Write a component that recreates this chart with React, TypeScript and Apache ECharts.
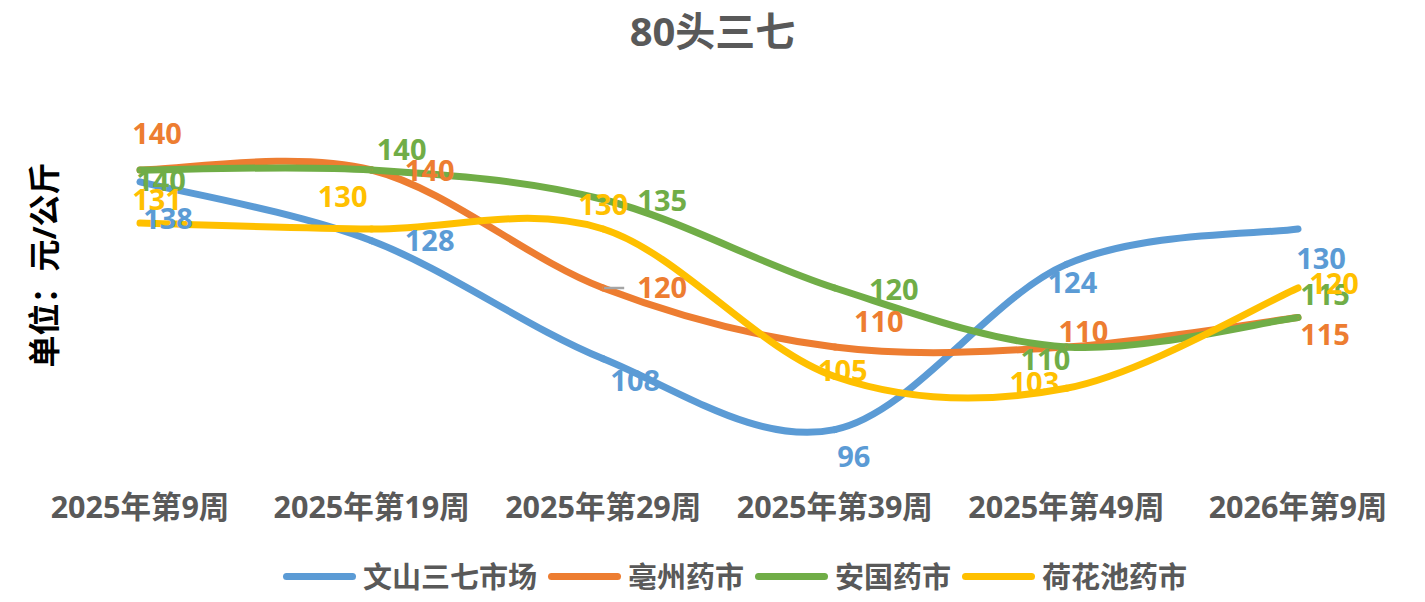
import React, { useEffect, useRef } from 'react';
import * as echarts from 'echarts';

const chartTitle = '80头三七';
const yAxisTitle = '单位：元/公斤';
const categories = ['2025年第9周', '2025年第19周', '2025年第29周', '2025年第39周', '2025年第49周', '2026年第9周'];
const seriesNames = ['文山三七市场', '亳州药市', '安国药市', '荷花池药市'];
const wenshan = [138, 128, 108, 96, 124, 130];
const bozhou = [140, 140, 120, 110, 110, 115];
const anguo = [140, 140, 135, 120, 110, 115];
const hehuachi = [131, 130, 130, 105, 103, 120];

const colors = ['#5B9BD5', '#ED7D31', '#70AD47', '#FFC000'];
const FONT = "'Open Sans', 'Noto Sans CJK SC', sans-serif";

// label centre offsets (px) relative to each point
const labelOffsets = [
  [[28, 36], [58, -1], [32, 21], [19, 26], [6, 17], [23, 28]],
  [[17, -38], [58, -1], [59, -2], [44, -27], [17, -17], [27, 16]],
  [[21, 9], [30, -22], [59, 0], [59, 0], [-21, 11], [27, -24]],
  [[17, -25], [-29, -34], [0, -26], [8, -7], [-32, -7], [36, -6]],
];
// leader line (series index, point index, length px)
const leaderLines = [[1, 2, 21]];

export default function App() {
  const ref = useRef<HTMLDivElement>(null);
  useEffect(() => {
    const chart = echarts.init(ref.current!, null, { renderer: 'svg' });
    const values = [wenshan, bozhou, anguo, hehuachi];

    // invisible line series: labels + legend
    const labelSeries = values.map((vals, si) => ({
      name: seriesNames[si],
      type: 'line',
      z: 3,
      symbol: 'circle',
      symbolSize: 2,
      showSymbol: true,
      itemStyle: { color: colors[si] },
      lineStyle: { color: colors[si], width: 0, opacity: 0 },
      label: {
        show: true,
        color: colors[si],
        fontSize: 29,
        fontWeight: 'bold',
        fontFamily: FONT,
        align: 'center',
        verticalAlign: 'middle',
      },
      data: vals.map((v, i) => ({
        value: v,
        label: { position: [labelOffsets[si][i][0] + 1, labelOffsets[si][i][1] + 1] },
      })),
    }));

    // Excel-style smoothed curves (Catmull-Rom bezier) through axis coordinates
    const curveSeries = values.map((vals, si) => ({
      type: 'custom',
      z: 2,
      silent: true,
      data: vals.map((v, i) => [i, v]),
      renderItem: (params: any, api: any) => {
        const i = params.dataIndex;
        const n = vals.length;
        const P = (k: number) => {
          const kk = Math.max(0, Math.min(n - 1, k));
          return api.coord([kk, vals[kk]]);
        };
        const children: any[] = [];
        if (i < n - 1) {
          const p0 = P(i - 1), p1 = P(i), p2 = P(i + 1), p3 = P(i + 2);
          children.push({
            type: 'bezierCurve',
            shape: {
              x1: p1[0], y1: p1[1],
              x2: p2[0], y2: p2[1],
              cpx1: p1[0] + (p2[0] - p0[0]) / 6,
              cpy1: p1[1] + (p2[1] - p0[1]) / 6,
              cpx2: p2[0] - (p3[0] - p1[0]) / 6,
              cpy2: p2[1] - (p3[1] - p1[1]) / 6,
            },
            style: { stroke: colors[si], lineWidth: 7, fill: 'none', lineCap: 'round' },
          });
        }
        leaderLines.forEach(([ls, li, len]) => {
          if (ls === si && li === i) {
            const p = P(i);
            children.push({
              type: 'line',
              z2: 10,
              shape: { x1: p[0] - 1, y1: p[1], x2: p[0] + len, y2: p[1] },
              style: { stroke: '#A5A5A5', lineWidth: 2.5, fill: 'none' },
            });
          }
        });
        return { type: 'group', children };
      },
    }));

    chart.setOption({
      animation: false,
      backgroundColor: '#ffffff',
      title: {
        text: chartTitle,
        left: 'center',
        top: 10,
        padding: 0,
        textStyle: { fontSize: 40, fontWeight: 'bold', color: '#595959', fontFamily: FONT },
      },
      legend: {
        left: 283,
        top: 562,
        itemWidth: 66,
        itemHeight: 7,
        itemGap: 11,
        padding: 0,
        lineStyle: { width: 7, cap: 'round', opacity: 1 },
        textStyle: { fontSize: 29, fontWeight: 'bold', color: '#595959', fontFamily: FONT, padding: [0, 0, 0, 5.5] },
        data: seriesNames,
      },
      grid: { left: 24.2, right: 11.2, top: 111, bottom: 137, containLabel: false },
      xAxis: {
        type: 'category',
        boundaryGap: true,
        data: categories,
        axisLine: { show: false },
        axisTick: { show: false },
        splitLine: { show: false },
        axisLabel: { interval: 0, margin: 26, fontSize: 30.5, fontWeight: 'bold', color: '#595959', fontFamily: FONT },
      },
      yAxis: {
        type: 'value',
        min: 90,
        max: 150,
        show: false,
        splitLine: { show: false },
      },
      graphic: [
        {
          type: 'text',
          x: 43,
          y: 265,
          rotation: Math.PI / 2,
          style: {
            text: yAxisTitle,
            fontSize: 32,
            fontWeight: 'bold',
            fontFamily: FONT,
            fill: '#000000',
            align: 'center',
            verticalAlign: 'middle',
          },
        },
      ],
      series: [...curveSeries, ...labelSeries],
    });
    return () => chart.dispose();
  }, []);
  return <div ref={ref} style={{ position: 'fixed', left: 0, top: 0, width: 1425, height: 602 }} />;
}
